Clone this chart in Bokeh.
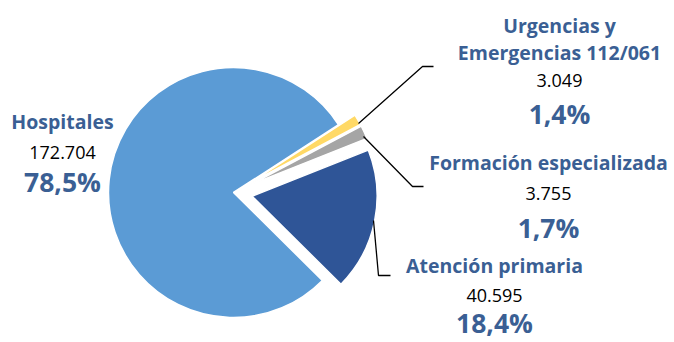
import math
from bokeh.plotting import figure
from bokeh.models import Range1d, ColumnDataSource
from bokeh.core.properties import value
from bokeh.embed import file_html
from bokeh.resources import INLINE

# ---- data ----
categories = ["Atención primaria", "Formación especializada", "Urgencias y\nEmergencias 112/061", "Hospitales"]
values = [40595, 3755, 3049, 172704]
value_labels = ["40.595", "3.755", "3.049", "172.704"]
pct_labels = ["18,4%", "1,7%", "1,4%", "78,5%"]
colors = ["#2F5597", "#A5A5A5", "#FFD966", "#5B9BD5"]
exploded = [True, True, True, False]

# ---- layout (pixel coordinates, y negated) ----
W, H = 674, 342
p = figure(width=W, height=H, output_backend="svg", toolbar_location=None,
           x_range=Range1d(0, W), y_range=Range1d(-H, 0),
           min_border=0)
p.axis.visible = False
p.grid.visible = False
p.outline_line_color = None
p.background_fill_color = "white"

cx, cy = 233, -192
R = 125
explode = 19
start = math.radians(-44.7)
total = sum(values)

xs, ys, sa, ea = [], [], [], []
a = start
for v, ex in zip(values, exploded):
    span = 2 * math.pi * v / total
    mid = a + span / 2
    d = explode if ex else 0
    xs.append(cx + d * math.cos(mid))
    ys.append(cy + d * math.sin(mid))
    sa.append(a)
    ea.append(a + span)
    a += span

src = ColumnDataSource(dict(x=xs, y=ys, sa=sa, ea=ea, color=colors))
p.wedge(x="x", y="y", radius=R, start_angle="sa", end_angle="ea",
        fill_color="color", line_color="white", line_width=1.5, source=src)

# leader lines
p.line([358, 422, 433], [-123, -66, -66], line_color="black", line_width=1.3)
p.line([363, 412, 423], [-136, -186, -186], line_color="black", line_width=1.3)
p.line([373, 378, 390], [-220, -275, -275], line_color="black", line_width=1.3)

TXT = "#3A5F94"
FONT = "Open Sans"
# label anchor positions (center x, center y of each line)
label_pos = [
    (494, [-265], -295, -322),
    (548, [-162], -193, -227),
    (559, [-25, -52], -80, -113),
    (62, [-121], -152, -181),
]

nx, ny, nt = [], [], []
vx, vy, vt = [], [], []
px_, py_, pt = [], [], []
for cat, vl, pl, (x, lys, vyy, pyy) in zip(categories, value_labels, pct_labels, label_pos):
    for line, yy in zip(cat.split("\n"), lys):
        nx.append(x); ny.append(yy); nt.append(line)
    vx.append(x); vy.append(vyy); vt.append(vl)
    px_.append(x); py_.append(pyy); pt.append(pl)

p.text(x=nx, y=ny, text=nt, text_align="center", text_baseline="middle",
       text_font=value(FONT), text_font_style="bold", text_font_size="19.5px",
       text_color=TXT)
p.text(x=vx, y=vy, text=vt, text_align="center", text_baseline="middle",
       text_font=value(FONT), text_font_size="18px", text_color="black")
p.text(x=px_, y=py_, text=pt, text_align="center", text_baseline="middle",
       text_font=value(FONT), text_font_style="bold", text_font_size="26.5px",
       text_color=TXT)

open("out.html", "w").write(file_html(p, INLINE))
